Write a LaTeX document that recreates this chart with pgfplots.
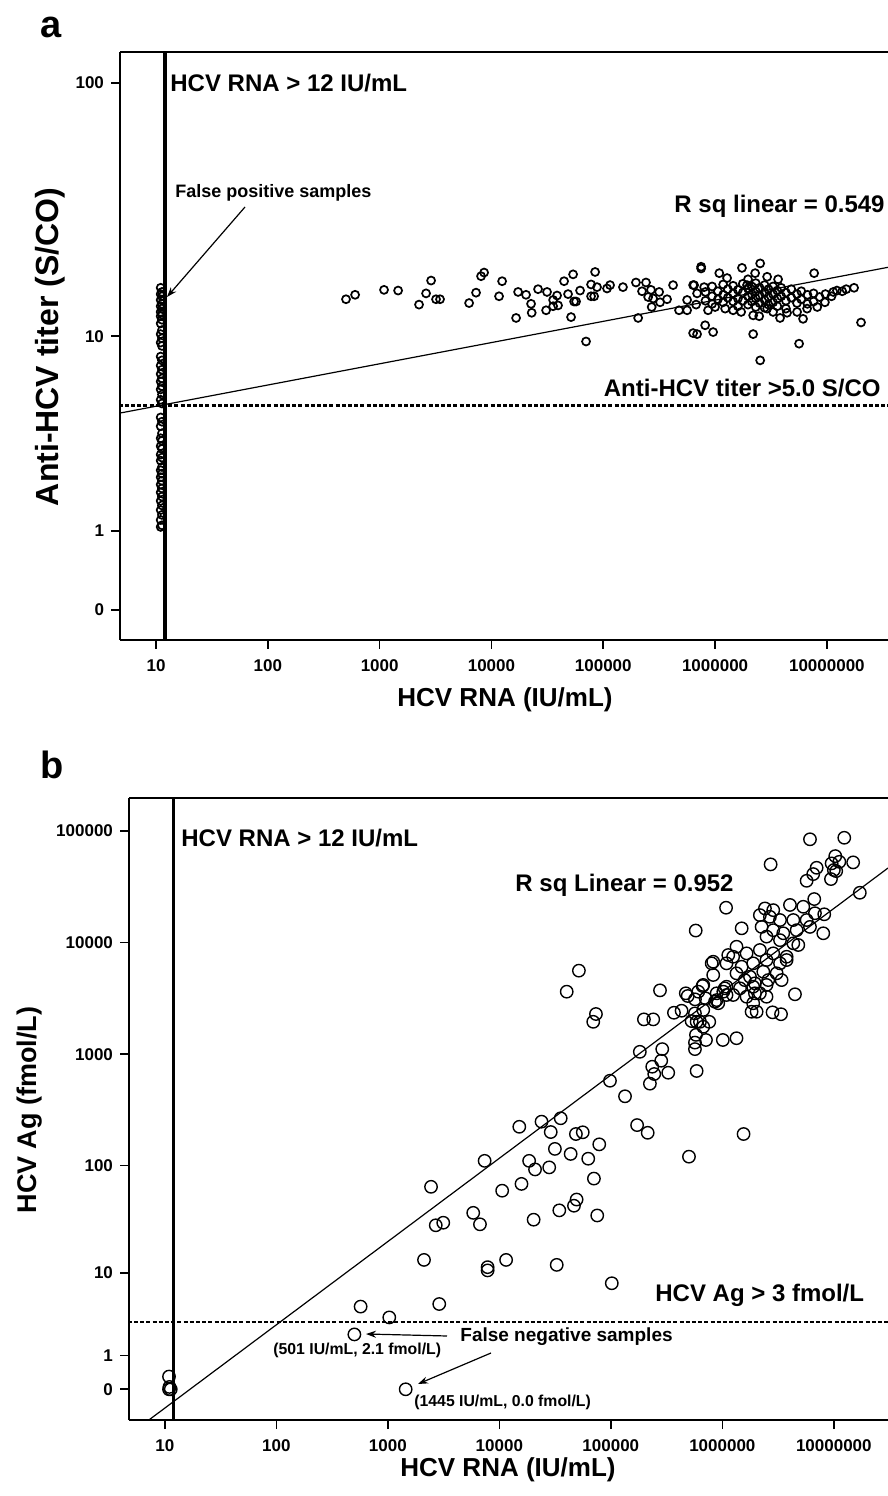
\documentclass[border=0pt]{standalone}
\usepackage{fontspec}
\setmainfont{Liberation Sans}
\usepackage{pgfplots}
\usepackage{pgfplotstable}
\pgfplotsset{compat=1.18}
\usetikzlibrary{arrows.meta}
\newcommand{\bsz}[1]{\bfseries\fontsize{#1}{#1}\selectfont}

% Panel a: x = HCV RNA (IU/mL), y = anti-HCV titer (S/CO)
\pgfplotstableread{
x y
11 15.8
11.3 15.2
11 14.9
11.3 14.6
11 14.1
11.3 13.6
11 13.3
11.3 13.0
11 12.6
11.3 12.3
11 12.1
11.3 11.7
11 11.3
11.3 10.6
11 10.2
11.3 9.8
11 9.4
11.3 9.1
11 8.2
11.3 7.9
11 7.5
11.3 7.2
11 6.9
11.3 6.6
11 6.4
11.3 6.1
11 5.9
11.3 5.6
11 5.3
11.3 5.1
11 4.4
11.3 4.2
11 4.0
11.3 3.7
11 3.5
11.3 3.4
11 3.2
11.3 3.1
11 2.9
11.3 2.8
11 2.7
11.3 2.5
11 2.4
11.3 2.3
11 2.2
11.3 2.1
11 2.0
11.3 1.9
11 1.8
11.3 1.7
11 1.6
11.3 1.5
11 1.4
11.3 1.3
11 1.2
11.3 1.1
11 1.07
500 14.2
603 14.8
1094 15.5
1462 15.4
2884 16.9
2600 15.0
2250 13.5
3192 14.2
3467 14.2
6310 13.7
7278 15.1
8070 17.6
8590 18.2
12450 16.8
11690 14.6
16600 11.9
17300 15.2
20370 14.8
22600 13.6
22900 12.5
26100 15.6
30800 12.8
31400 15.2
35600 14.1
38600 14.7
35600 13.3
39400 13.4
44600 16.8
48400 14.9
53700 17.9
54800 13.9
57100 13.9
51500 12.0
62000 15.4
70100 9.5
84500 18.3
77800 16.3
87900 15.9
77800 14.6
82800 14.6
108000 15.7
115000 16.2
150000 15.9
196000 16.6
241000 16.6
222000 15.3
267000 15.5
252000 14.5
316000 15.2
279000 14.3
322000 13.8
372000 14.2
271000 13.2
205000 11.9
421000 16.2
476000 12.8
562000 12.8
562000 14.1
636000 16.2
649000 16.2
750000 19.2
750000 18.9
690000 15.0
676000 13.5
798000 15.9
815000 11.1
636000 10.3
690000 10.2
960000 10.4
865000 12.8
1000000 13.2
1090000 18.1
1280000 17.3
1740000 19.0
2530000 19.8
2280000 18.1
2920000 17.5
3660000 17.1
1970000 17.1
1930000 16.2
1230000 13.0
1450000 12.8
1710000 12.6
2190000 12.2
2480000 12.1
2190000 10.2
2530000 7.9
3810000 11.9
5640000 9.3
6120000 11.8
7690000 18.1
20200000 11.4
17500000 15.8
14900000 15.6
11400000 15.2
9600000 13.8
8200000 13.2
6650000 13.0
5410000 12.6
4400000 12.5
3300000 12.6
2920000 13.0
820000 15.2
820000 14.0
940000 16.0
940000 14.6
940000 13.6
1060000 15.3
1060000 14.2
1180000 16.3
1180000 14.8
1180000 13.8
1300000 15.6
1300000 14.4
1450000 16.1
1450000 15.0
1450000 13.9
1600000 15.5
1600000 14.3
1600000 13.3
1770000 16.4
1770000 15.1
1770000 14.0
1970000 15.7
1970000 14.6
1970000 13.5
2130000 16.0
2130000 14.9
2130000 13.9
2310000 16.5
2310000 15.3
2310000 14.3
2310000 13.2
2500000 15.8
2500000 14.7
2500000 13.7
2770000 16.2
2770000 15.1
2770000 14.1
2770000 13.1
3000000 15.6
3000000 14.5
3000000 13.5
3300000 16.0
3300000 14.9
3300000 13.8
3600000 15.4
3600000 14.3
3600000 13.3
3900000 15.8
3900000 14.6
4300000 15.1
4300000 14.0
4300000 13.0
4800000 15.6
4800000 14.4
5400000 14.9
5400000 13.7
5900000 15.3
5900000 14.2
6700000 14.8
6700000 13.6
7600000 15.0
7600000 13.9
8600000 14.5
9700000 14.9
11000000 14.6
12300000 15.4
13700000 15.3
}\tA

% Panel b: x = HCV RNA (IU/mL), y = HCV Ag (fmol/L)
\pgfplotstableread{
x y
10.9 0.3
10.9 0
11.3 0
11.0 0.05
570 4.5
1030 3.4
2890 4.8
501 2.1
1445 0
2110 13.4
7850 11.4
7850 10.6
11500 13.4
32700 12.0
102000 7.9
2440 64
2690 28.4
3140 30
5830 37
6700 29
7380 110
10600 59
15100 223
15800 68
18500 110
20900 92
20300 32
23900 248
28900 200
28000 96
31500 141
35500 266
34500 39
43600 127
46700 43
49300 49
48600 192
56000 199
62700 115
70500 76
75500 35
78700 155
134000 419
40200 3630
73500 2290
69500 1950
276000 3730
198000 2050
240000 2050
368000 2350
431000 2450
489000 3320
568000 3100
665000 4080
708000 3160
568000 2320
674000 2490
530000 1980
588000 1950
630000 1950
763000 1950
674000 1760
580000 1490
568000 1270
568000 1110
713000 1340
1010000 1340
1340000 1390
588000 707
182000 1050
289000 1110
283000 874
235000 772
245000 664
327000 682
224000 544
98200 578
172000 231
214000 197
502000 120
1550000 192
1250000 3390
1650000 3270
1960000 3510
2490000 3270
1890000 2860
2030000 2400
1830000 2400
2820000 2370
3360000 2280
4480000 3440
3400000 4610
2580000 4610
1590000 4610
1960000 4310
1050000 3890
1090000 3390
919000 2860
889000 3050
859000 2950
6110000 84000
12400000 86700
2710000 50100
10300000 59400
11200000 52800
9550000 51100
10000000 44600
9420000 37000
10500000 43600
14900000 52200
7010000 46700
6530000 41000
5700000 35700
17100000 27900
6670000 24500
1080000 20500
577000 12800
1490000 13400
51700 5600
8040000 12100
8200000 17900
4800000 9500
2410000 20200
2860000 19500
4040000 21700
5320000 20900
6770000 18300
2170000 17600
2670000 17000
3290000 15900
4330000 15900
5700000 15900
2250000 13800
2860000 12900
3520000 12100
4640000 12900
6110000 13800
2490000 11300
3290000 10500
4330000 9840
1340000 9170
1650000 8000
2170000 8570
2860000 8000
3770000 7460
1130000 7730
802000 6510
828000 6730
1090000 6510
1250000 7460
1490000 6070
1890000 6510
2490000 6970
3290000 6510
828000 5120
1340000 5300
1770000 4940
2330000 5480
3070000 5300
3770000 6970
2490000 4170
1090000 4020
1440000 3890
1890000 4020
674000 4170
470000 3510
608000 3630
889000 3510
1020000 3630
2170000 3510
}\tB

\begin{document}
\begin{tikzpicture}
\useasboundingbox (0,0) rectangle (444pt,748pt);
\clip (0,0) rectangle (444pt,748pt);

% ---------- panel a ----------
\begin{axis}[
  xmode=log,
  scale only axis,
  axis x line*=bottom, axis y line*=left,
  tick align=outside, xminorticks=false, yminorticks=false,
  xtick={10,100,1000,10000,100000,1000000,10000000},
  xticklabels={10,100,1000,10000,100000,1000000,10000000},
  ticklabel style={font=\bsz{8.5}},
  xticklabel style={yshift=-2pt},
  major tick length=4.5pt,
  axis line style={line width=0.8pt},
  every tick/.style={black, line width=0.8pt},
  clip mode=individual,
  y filter/.expression={log10(y+1)},
  at={(60pt,428pt)}, anchor=south west,
  width=384pt, height=294pt,
  xmin=4.76, xmax=3.52e7,
  ymin=-0.114, ymax=2.122,
  ytick={0,0.30103,1.04139,2.00432},
  yticklabels={0,1,10,100},
]
\draw[line width=0.8pt] (rel axis cs:0,1) -- (rel axis cs:1,1);
\addplot[black, line width=1.3pt, dash pattern=on 2pt off 1.1pt] coordinates {(1,5) (1e8,5)};
\addplot[black, line width=0.6pt] coordinates {(4.76,4.61) (3.52e7,19.1)};
\addplot[only marks, mark=o, mark size=2.0pt, mark options={black, line width=0.85pt}] table {\tA};
\addplot[black, line width=1.6pt] coordinates {(12,-0.5) (12,300)};
\end{axis}

% ---------- panel b ----------
\begin{axis}[
  xmode=log,
  scale only axis,
  axis x line*=bottom, axis y line*=left,
  tick align=outside, xminorticks=false, yminorticks=false,
  xtick={10,100,1000,10000,100000,1000000,10000000},
  xticklabels={10,100,1000,10000,100000,1000000,10000000},
  ticklabel style={font=\bsz{8.5}},
  xticklabel style={yshift=-2pt},
  major tick length=4.5pt,
  axis line style={line width=0.8pt},
  every tick/.style={black, line width=0.8pt},
  clip mode=individual,
  y filter/.expression={log10(y+1)},
  at={(64.5pt,38pt)}, anchor=south west,
  width=379.5pt, height=311pt,
  xmin=4.77, xmax=3.06e7,
  ymin=-0.275, ymax=5.294,
  ytick={0,0.30103,1.04139,2.00432,3.00043,4.00004,5.0},
  yticklabels={0,1,10,100,1000,10000,100000},
]
\draw[line width=0.8pt] (rel axis cs:0,1) -- (rel axis cs:1,1);
\addplot[black, line width=1.3pt, dash pattern=on 2pt off 1.1pt] coordinates {(1,3) (1e8,3)};
\addplot[black, line width=0.6pt] coordinates {(4.77,-0.609) (3.06e7,46450)};
\addplot[only marks, mark=o, mark size=3.1pt, mark options={black, line width=0.7pt}] table {\tB};
\addplot[black, line width=1.6pt] coordinates {(12,-0.6) (12,1e6)};
\end{axis}

% ---------- texts (pixel coordinates) ----------
\begin{scope}[shift={(0pt,748pt)}, x=0.5pt, y=-0.5pt]
\node[anchor=base west, inner sep=0, font=\bsz{19}] at (40,38) {a};
\node[anchor=base west, inner sep=0, font=\bsz{12}] at (170,92) {HCV RNA > 12 IU/mL};
\node[anchor=base west, inner sep=0, font=\bsz{9}] at (175,198) {False positive samples};
\draw[-{Stealth[length=5pt,width=3.5pt]}, line width=0.6pt] (245,207) -- (167,297);
\node[anchor=base east, inner sep=0, font=\bsz{12}] at (885,213) {R sq linear = 0.549};
\node[anchor=base east, inner sep=0, font=\bsz{12}] at (881,397) {Anti-HCV titer >5.0 S/CO};
\node[rotate=90, inner sep=0, font=\bsz{16}] at (50,347) {Anti-HCV titer (S/CO)};
\node[inner sep=0, font=\bsz{13}] at (505,700) {HCV RNA (IU/mL)};

\node[anchor=base west, inner sep=0, font=\bsz{19}] at (40,779) {b};
\node[anchor=base west, inner sep=0, font=\bsz{12}] at (181,847) {HCV RNA > 12 IU/mL};
\node[anchor=base east, inner sep=0, font=\bsz{12}] at (734,892) {R sq Linear = 0.952};
\node[anchor=base west, inner sep=0, font=\bsz{12}] at (655,1302) {HCV Ag > 3 fmol/L};
\node[anchor=base west, inner sep=0, font=\bsz{9.5}] at (460,1342) {False negative samples};
\node[anchor=base west, inner sep=0, font=\bsz{7.9}] at (273,1355) {(501 IU/mL, 2.1 fmol/L)};
\node[anchor=base west, inner sep=0, font=\bsz{7.9}] at (414,1406) {(1445 IU/mL, 0.0 fmol/L)};
\draw[-{Stealth[length=5pt,width=3.5pt]}, line width=0.6pt] (447,1336) -- (366,1334);
\draw[-{Stealth[length=5pt,width=3.5pt]}, line width=0.6pt] (491,1353) -- (418,1384);
\node[rotate=90, inner sep=0, font=\bsz{13.5}] at (30,1110) {HCV Ag (fmol/L)};
\node[inner sep=0, font=\bsz{13}] at (508,1470) {HCV RNA (IU/mL)};
\end{scope}
\end{tikzpicture}
\end{document}
